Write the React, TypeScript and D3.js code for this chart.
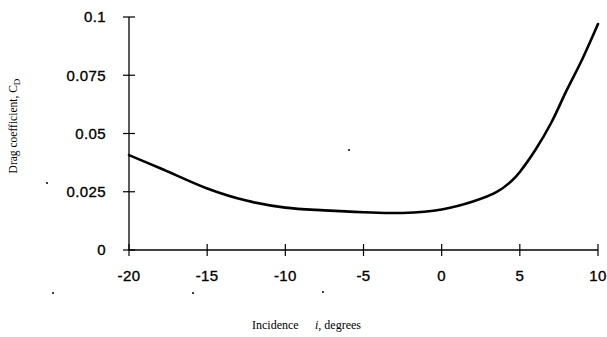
import React from "react";
import * as d3 from "d3";

const incidence = [-20, -18, -15, -12.5, -10, -7.5, -5, -2.5, 0, 2, 3.5, 4.5, 5, 6, 7, 8, 9, 10];
const dragCoeff = [0.0407, 0.0351, 0.0264, 0.0212, 0.0182, 0.017, 0.0162, 0.0159, 0.0174, 0.0208, 0.0248, 0.0298, 0.0335, 0.043, 0.0545, 0.0686, 0.082, 0.097];
const xTicks = [-20, -15, -10, -5, 0, 5, 10];
const yTicks = [0, 0.025, 0.05, 0.075, 0.1];
const yTickLabels = ["0", "0.025", "0.05", "0.075", "0.1"];
const specks = [[53, 293], [193, 293], [323, 292], [47, 183], [349, 150]];

export default function App() {
  const W = 607, H = 337;
  const x = d3.scaleLinear().domain([-20, 10]).range([129, 598]);
  const y = d3.scaleLinear().domain([0, 0.1]).range([250, 17]);
  const line = d3.line<number>()
    .x((_, i) => x(incidence[i]))
    .y((d) => y(d))
    .curve(d3.curveCatmullRom.alpha(0.5));
  const sans = "'Liberation Sans', Arial, sans-serif";
  const serif = "'Liberation Serif', 'Times New Roman', serif";
  return (
    <svg width={W} height={H} style={{ position: "absolute", left: 0, top: 0, background: "#fff" }}>
      <rect width={W} height={H} fill="#fff" />
      {/* axes */}
      <line x1={x(-20)} x2={x(-20)} y1={y(0.1)} y2={y(0)} stroke="#000" strokeWidth={1.3} />
      <line x1={x(-20)} x2={x(10)} y1={y(0)} y2={y(0)} stroke="#000" strokeWidth={1.3} />
      {yTicks.map((t, i) => (
        <g key={"y" + i}>
          <line x1={x(-20) - 6} x2={x(-20) + 6} y1={y(t)} y2={y(t)} stroke="#000" strokeWidth={1.2} />
          <text x={106} y={y(t)} dy="0.36em" textAnchor="end" fontFamily={sans} fontSize={15} letterSpacing={0.4}
            fill="#000" stroke="#000" strokeWidth={0.35}>
            {yTickLabels[i]}
          </text>
        </g>
      ))}
      {xTicks.map((t, i) => (
        <g key={"x" + i}>
          <line x1={x(t)} x2={x(t)} y1={y(0) - 6} y2={y(0) + 6} stroke="#000" strokeWidth={1.2} />
          <text x={x(t)} y={276} dy="0.36em" textAnchor="middle" fontFamily={sans} fontSize={15} letterSpacing={0.4}
            fill="#000" stroke="#000" strokeWidth={0.35}>
            {t}
          </text>
        </g>
      ))}
      {/* curve */}
      <path d={line(dragCoeff) || ""} fill="none" stroke="#000" strokeWidth={2.6} strokeLinejoin="round" strokeLinecap="round" />
      {/* axis titles */}
      <text
        transform="translate(17,126) rotate(-90)"
        textAnchor="middle"
        fontFamily={serif}
        fontSize={11.5}
        fill="#000"
      >
        Drag coefficient, C<tspan fontSize={9} dy={3}>D</tspan>
      </text>
      <text x={252} y={329} fontFamily={serif} fontSize={12} fill="#000">
        Incidence
      </text>
      <text x={315} y={329} fontFamily={serif} fontSize={12} fill="#000">
        <tspan fontStyle="italic">i</tspan>, degrees
      </text>
      {specks.map((p, i) => (
        <circle key={"s" + i} cx={p[0]} cy={p[1]} r={1} fill="#000" />
      ))}
    </svg>
  );
}
